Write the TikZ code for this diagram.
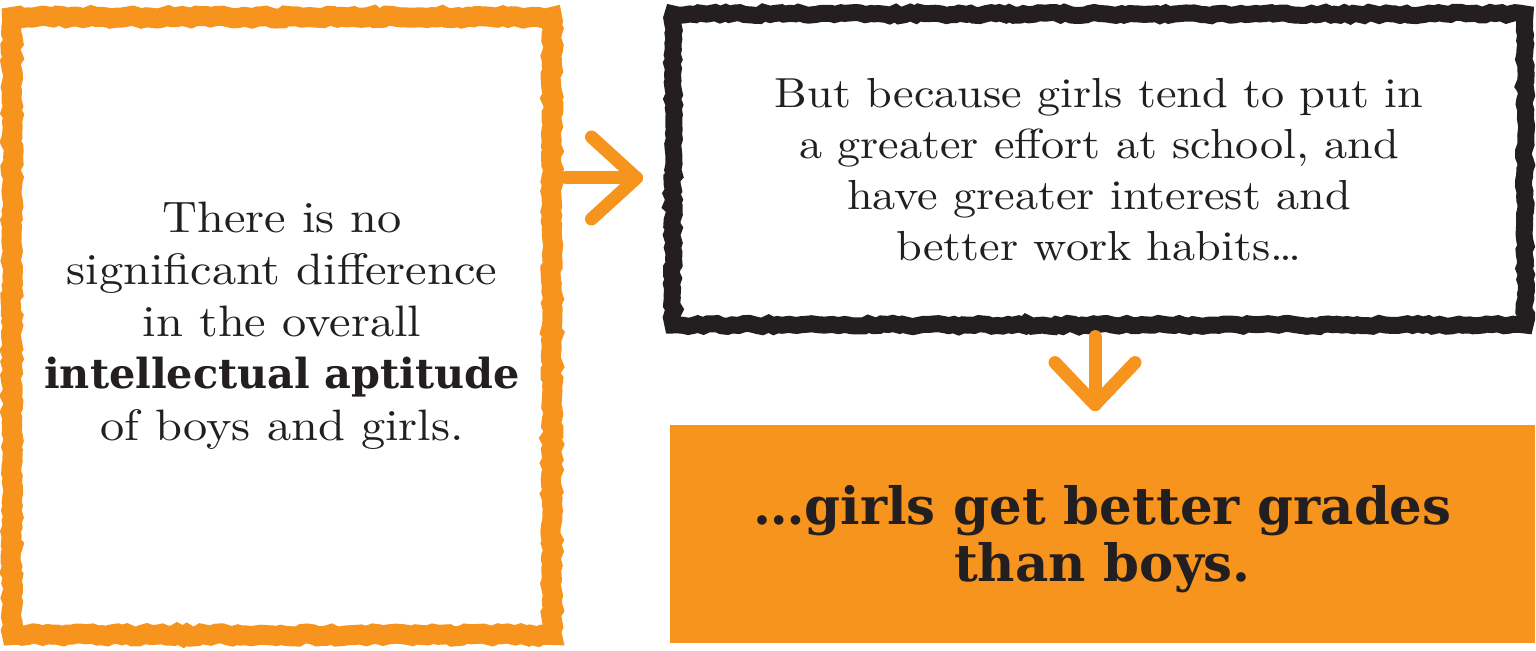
\documentclass[tikz,border=0pt]{standalone}
\usepackage{fontspec}
\newfontfamily\heavy{DejaVu Serif}
\newfontfamily\bodyfont{lmroman10-regular.otf}[FakeStretch=1.1]
\usetikzlibrary{decorations.pathmorphing,calc}
\definecolor{orng}{HTML}{F7941D}
\definecolor{ink}{HTML}{231F20}
\tikzset{
  roughbox/.style={decoration={random steps,segment length=2.5pt,amplitude=0.8pt},decorate,inner sep=0pt,align=center,text=ink},
  arrowline/.style={draw=orng,line width=6.5pt,line cap=round,line join=round},
  lefttext/.style={font=\bodyfont\fontsize{22}{26}\selectfont},
  righttext/.style={font=\bodyfont\fontsize{21}{25.4}\selectfont}
}
\begin{document}
\pgfmathsetseed{7}
\begin{tikzpicture}[x=0.5pt,y=-0.5pt]
\useasboundingbox (0,0) rectangle (1536,651);
\node[roughbox,draw=orng,line width=10pt,minimum width=270pt,minimum height=309pt,lefttext] (L) at (282,326)
 {There is no\\significant difference\\in the overall\\{\heavy\bfseries\fontsize{20.7}{26}\selectfont intellectual aptitude}\\of boys and girls.};
\node[roughbox,draw=ink,line width=8.5pt,minimum width=426pt,minimum height=155.5pt,righttext] (R) at (1099,169.5)
 {But because girls tend to put in\\a greater effort at school, and\\have greater interest and\\better work habits\ldots};
\node[fill=orng,inner sep=0pt,minimum width=432.5pt,minimum height=109pt] (B) at (1102.5,534) {};
\node[align=center,text=ink,font=\heavy\bfseries\fontsize{25.7}{28.5}\selectfont] (Bt) at ($(B.center)+(0,5)$)
 {…girls get better grades\\than boys.};
% right arrow
\coordinate (a1) at ($(L.east |- 0,178)+(4,0)$);
\coordinate (a2) at ($(R.west |- 0,178)+(-28,0)$);
\draw[arrowline] (a1) -- (a2);
\draw[arrowline] ($(a2)+(-45,-41)$) -- (a2) -- ($(a2)+(-45,41)$);
% down arrow
\coordinate (b1) at ($(B.north -| 1095,0)+(0,-88)$);
\coordinate (b2) at ($(B.north -| 1095,0)+(0,-20)$);
\draw[arrowline] (b1) -- (b2);
\draw[arrowline] ($(b2)+(-40,-42)$) -- (b2) -- ($(b2)+(40,-42)$);
\end{tikzpicture}
\end{document}
